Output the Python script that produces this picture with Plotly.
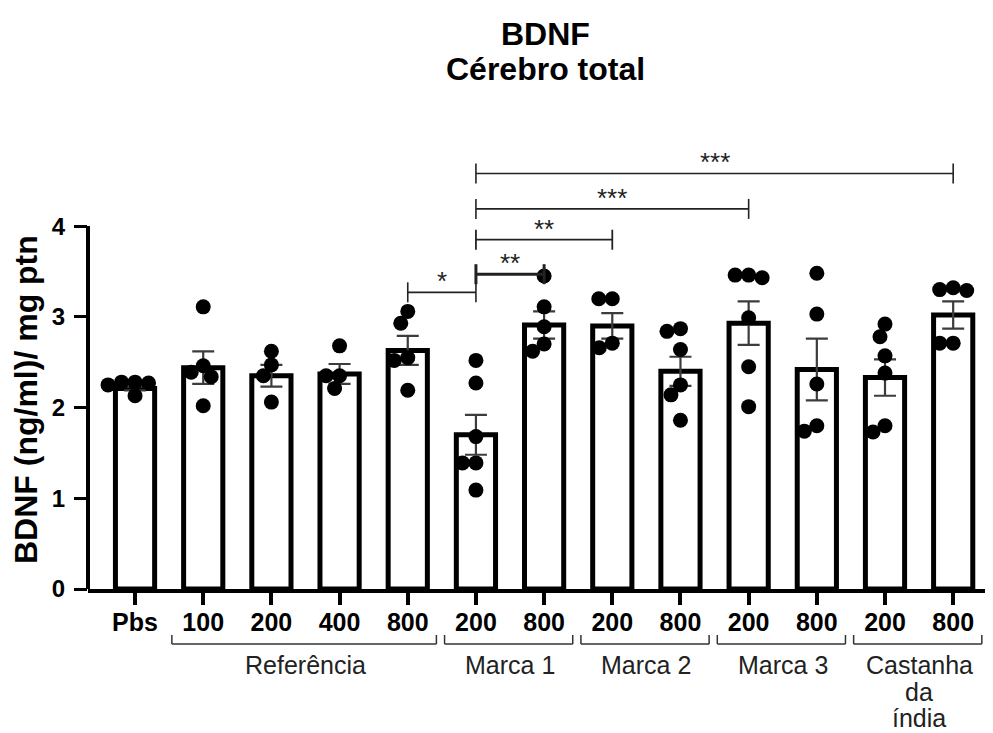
import numpy as np
import plotly.graph_objects as go

# ---------------- data ----------------
tick_labels = ["Pbs", "100", "200", "400", "800", "200", "800",
               "200", "800", "200", "800", "200", "800"]
means = [2.21, 2.44, 2.35, 2.37, 2.63, 1.70, 2.91, 2.90, 2.40, 2.93, 2.42, 2.33, 3.02]
sems = [0.02, 0.18, 0.12, 0.11, 0.16, 0.22, 0.15, 0.14, 0.16, 0.24, 0.34, 0.20, 0.15]
points = [
    [2.28, 2.28, 2.27, 2.25, 2.13],
    [3.11, 2.46, 2.39, 2.34, 2.02],
    [2.62, 2.47, 2.35, 2.06],
    [2.68, 2.35, 2.35, 2.21],
    [3.06, 2.93, 2.55, 2.52, 2.19],
    [2.52, 2.27, 1.68, 1.39, 1.39, 1.09],
    [3.45, 3.11, 2.89, 2.70, 2.62],
    [3.20, 3.20, 2.71, 2.66],
    [2.87, 2.84, 2.64, 2.25, 2.14, 1.86],
    [3.46, 3.46, 3.43, 2.99, 2.45, 2.01],
    [3.48, 3.03, 2.26, 1.80, 1.74],
    [2.92, 2.78, 2.57, 2.38, 1.80, 1.73],
    [3.32, 3.30, 3.29, 2.71, 2.71],
]
group_labels = ["Referência", "Marca 1", "Marca 2", "Marca 3", "Castanha<br>da<br>índia"]
group_first = [1, 5, 7, 9, 11]
group_last = [4, 6, 8, 10, 12]

comp_from = [4, 5, 5, 5, 5]
comp_to = [5, 6, 7, 9, 12]
comp_level = [3.27, 3.47, 3.85, 4.19, 4.58]
comp_label = ["*", "**", "**", "***", "***"]

y_ticks = [0, 1, 2, 3, 4]

# ---------------- layout constants ----------------
OFF = 8                     # page body margin
W, H = 993 - OFF, 733 - OFF
ML, MR, MT, MB = 88 - OFF, 3, 149 - OFF, 144
XR = [-0.69, 12.54]
YR = [0, 4.85]
PW = W - ML - MR
PH = H - MT - MB
px_x = PW / (XR[1] - XR[0])
px_y = PH / (YR[1] - YR[0])
FONT = "Liberation Sans, Arial, sans-serif"


def swarm(vals, D=13.5, step=0.5):
    placed = []
    res = [0.0] * len(vals)
    order = sorted(range(len(vals)), key=lambda k: -vals[k])
    cands = sorted(np.arange(-30, 30.01, step), key=lambda c: (abs(c), c))
    for k in order:
        y = vals[k] * px_y
        chosen = 0.0
        for c in cands:
            if all((c - a) ** 2 + (y - b) ** 2 >= D * D for a, b in placed):
                chosen = c
                break
        placed.append((chosen, y))
        res[k] = chosen / px_x
    return res


def py_paper(page_y):
    return (H - MB - (page_y - OFF)) / PH


def px_paper(page_x):
    return (page_x - OFF - ML) / PW


xs = list(range(len(tick_labels)))

fig = go.Figure()
fig.add_trace(go.Bar(
    x=xs, y=means, width=0.575,
    marker=dict(color="white", line=dict(color="black", width=5)),
    error_y=dict(type="data", array=sems, visible=True, color="#3c3c3c",
                 thickness=2.2, width=11),
    showlegend=False, hoverinfo="skip",
))

px_pts, py_pts = [], []
for i, vals in enumerate(points):
    offs = swarm(vals)
    for v, o in zip(vals, offs):
        px_pts.append(i + o)
        py_pts.append(v)
fig.add_trace(go.Scatter(
    x=px_pts, y=py_pts, mode="markers",
    marker=dict(color="black", size=15, line=dict(width=0)),
    cliponaxis=False, showlegend=False, hoverinfo="skip",
))

shapes = []
annotations = []

# y axis line from 0 to 4
shapes.append(dict(type="line", xref="paper", yref="y", x0=0, x1=0,
                   y0=y_ticks[0], y1=y_ticks[-1], line=dict(color="black", width=4)))

# significance brackets
bw = [1.6, 3.0, 1.8, 1.6, 1.6]
tick_h = 10 / px_y
for a, b, lev, lab, w in zip(comp_from, comp_to, comp_level, comp_label, bw):
    shapes.append(dict(type="line", xref="x", yref="y", x0=a, x1=b, y0=lev, y1=lev,
                       line=dict(color="#222", width=w)))
    for xe in (a, b):
        shapes.append(dict(type="line", xref="x", yref="y", x0=xe, x1=xe,
                           y0=lev - tick_h, y1=lev + tick_h,
                           line=dict(color="#222", width=w)))
    annotations.append(dict(x=(a + b) / 2, y=lev, xref="x", yref="y", text=lab,
                            showarrow=False, yanchor="bottom", yshift=-6,
                            font=dict(family=FONT, size=26, color="#222")))

# group brackets under the axis
gy = py_paper(644)
gy_t = py_paper(635)
for lab, f, l in zip(group_labels, group_first, group_last):
    x0, x1 = f - 0.46, l + 0.42
    shapes.append(dict(type="line", xref="x", yref="paper", x0=x0, x1=x1, y0=gy, y1=gy,
                       line=dict(color="#333", width=1.5)))
    for xe in (x0, x1):
        shapes.append(dict(type="line", xref="x", yref="paper", x0=xe, x1=xe, y0=gy, y1=gy_t,
                           line=dict(color="#333", width=1.5)))
    for j, line in enumerate(lab.split("<br>")):
        annotations.append(dict(x=(f + l) / 2, y=py_paper(665 + 26.5 * j), xref="x", yref="paper",
                                text=line, showarrow=False, yanchor="middle",
                                font=dict(family=FONT, size=25, color="#222")))

# title
annotations.append(dict(x=px_paper(545), y=py_paper(34), xref="paper", yref="paper",
                        text="<b>BDNF</b>", showarrow=False, yanchor="middle",
                        font=dict(family=FONT, size=32, color="black")))
annotations.append(dict(x=px_paper(545), y=py_paper(69), xref="paper", yref="paper",
                        text="<b>Cérebro total</b>", showarrow=False, yanchor="middle",
                        font=dict(family=FONT, size=32, color="black")))
# y axis title
annotations.append(dict(x=px_paper(26), y=py_paper(400), xref="paper", yref="paper",
                        text="<b>BDNF (ng/ml)/ mg ptn</b>", showarrow=False, textangle=-90,
                        xanchor="center", yanchor="middle",
                        font=dict(family=FONT, size=32, color="black")))

fig.update_layout(
    width=W, height=H,
    margin=dict(l=ML, r=MR, t=MT, b=MB),
    plot_bgcolor="white", paper_bgcolor="white",
    shapes=shapes, annotations=annotations,
    bargap=0.4,
    xaxis=dict(range=XR, tickmode="array", tickvals=xs, ticktext=tick_labels,
               showline=True, linecolor="black", linewidth=4,
               ticks="outside", ticklen=12, tickwidth=4, tickcolor="black",
               ticklabelstandoff=-4,
               tickfont=dict(family=FONT, size=25, color="black", weight="bold"),
               showgrid=False, zeroline=False, fixedrange=True),
    yaxis=dict(range=YR, tickmode="array", tickvals=y_ticks,
               showline=False, ticks="outside", ticklen=13, tickwidth=3, tickcolor="black",
               ticklabelstandoff=4,
               tickfont=dict(family=FONT, size=24, color="black", weight="bold"),
               showgrid=False, zeroline=False, fixedrange=True),
)

fig.write_html("out.html")
